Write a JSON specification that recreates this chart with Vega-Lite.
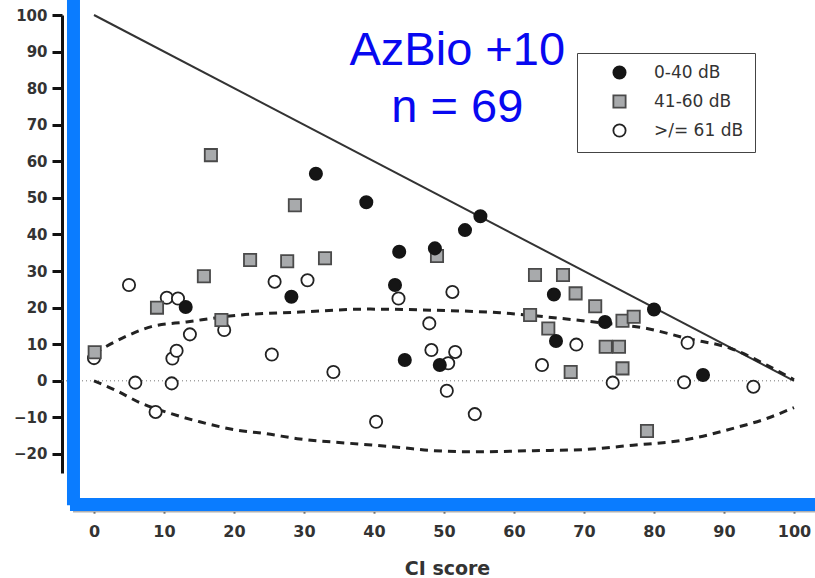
{
  "$schema": "https://vega.github.io/schema/vega-lite/v6.json",
  "width": 753,
  "height": 458,
  "autosize": {"type": "none"},
  "padding": {"left": 62, "top": 15, "right": 0, "bottom": 105},
  "background": "white",
  "config": {
    "view": {"stroke": null},
    "axis": {"grid": false, "labelOverlap": false},
    "axisX": {
      "tickCount": 11,
      "offset": 32,
      "domain": false,
      "tickColor": "#333333", "tickWidth": 2, "tickSize": 8,
      "labelFont": "DejaVu Sans", "labelFontWeight": "bold", "labelFontSize": 16,
      "labelColor": "#333333", "labelPadding": 10,
      "titleFont": "DejaVu Sans", "titleFontWeight": "bold", "titleFontSize": 19,
      "titleColor": "#333333", "titlePadding": 20, "titleX": 385
    },
    "axisY": {
      "tickCount": 13,
      "domainColor": "#111111", "domainWidth": 3,
      "tickColor": "#111111", "tickWidth": 3, "tickSize": 10,
      "labelFont": "DejaVu Sans", "labelFontWeight": "bold", "labelFontSize": 15,
      "labelColor": "#333333", "labelPadding": 5
    }
  },
  "datasets": {
    "scores": [
      {"ci": 0, "gain": 6.2, "group": ">/= 61 dB"},
      {"ci": 5.0, "gain": 26.2, "group": ">/= 61 dB"},
      {"ci": 5.9, "gain": -0.5, "group": ">/= 61 dB"},
      {"ci": 8.8, "gain": -8.5, "group": ">/= 61 dB"},
      {"ci": 10.4, "gain": 22.7, "group": ">/= 61 dB"},
      {"ci": 11.1, "gain": -0.7, "group": ">/= 61 dB"},
      {"ci": 11.2, "gain": 6.1, "group": ">/= 61 dB"},
      {"ci": 11.8, "gain": 8.2, "group": ">/= 61 dB"},
      {"ci": 12.0, "gain": 22.5, "group": ">/= 61 dB"},
      {"ci": 13.7, "gain": 12.7, "group": ">/= 61 dB"},
      {"ci": 18.6, "gain": 13.9, "group": ">/= 61 dB"},
      {"ci": 25.4, "gain": 7.2, "group": ">/= 61 dB"},
      {"ci": 25.8, "gain": 27.1, "group": ">/= 61 dB"},
      {"ci": 30.5, "gain": 27.5, "group": ">/= 61 dB"},
      {"ci": 34.2, "gain": 2.4, "group": ">/= 61 dB"},
      {"ci": 40.3, "gain": -11.2, "group": ">/= 61 dB"},
      {"ci": 43.5, "gain": 22.5, "group": ">/= 61 dB"},
      {"ci": 47.9, "gain": 15.7, "group": ">/= 61 dB"},
      {"ci": 48.2, "gain": 8.4, "group": ">/= 61 dB"},
      {"ci": 50.4, "gain": -2.7, "group": ">/= 61 dB"},
      {"ci": 50.6, "gain": 4.8, "group": ">/= 61 dB"},
      {"ci": 51.2, "gain": 24.3, "group": ">/= 61 dB"},
      {"ci": 51.6, "gain": 7.9, "group": ">/= 61 dB"},
      {"ci": 54.4, "gain": -9.1, "group": ">/= 61 dB"},
      {"ci": 64.0, "gain": 4.3, "group": ">/= 61 dB"},
      {"ci": 68.9, "gain": 9.9, "group": ">/= 61 dB"},
      {"ci": 74.1, "gain": -0.5, "group": ">/= 61 dB"},
      {"ci": 84.3, "gain": -0.4, "group": ">/= 61 dB"},
      {"ci": 84.8, "gain": 10.4, "group": ">/= 61 dB"},
      {"ci": 94.2, "gain": -1.6, "group": ">/= 61 dB"},
      {"ci": 0.1, "gain": 7.8, "group": "41-60 dB"},
      {"ci": 9.0, "gain": 20.0, "group": "41-60 dB"},
      {"ci": 15.7, "gain": 28.6, "group": "41-60 dB"},
      {"ci": 16.7, "gain": 61.7, "group": "41-60 dB"},
      {"ci": 18.2, "gain": 16.6, "group": "41-60 dB"},
      {"ci": 22.3, "gain": 33.0, "group": "41-60 dB"},
      {"ci": 27.6, "gain": 32.7, "group": "41-60 dB"},
      {"ci": 28.7, "gain": 48.0, "group": "41-60 dB"},
      {"ci": 33.0, "gain": 33.5, "group": "41-60 dB"},
      {"ci": 49.0, "gain": 34.1, "group": "41-60 dB"},
      {"ci": 62.3, "gain": 18.0, "group": "41-60 dB"},
      {"ci": 63.0, "gain": 28.9, "group": "41-60 dB"},
      {"ci": 64.9, "gain": 14.3, "group": "41-60 dB"},
      {"ci": 67.0, "gain": 28.9, "group": "41-60 dB"},
      {"ci": 68.1, "gain": 2.4, "group": "41-60 dB"},
      {"ci": 68.8, "gain": 23.9, "group": "41-60 dB"},
      {"ci": 71.6, "gain": 20.4, "group": "41-60 dB"},
      {"ci": 73.1, "gain": 9.3, "group": "41-60 dB"},
      {"ci": 75.0, "gain": 9.3, "group": "41-60 dB"},
      {"ci": 75.5, "gain": 16.4, "group": "41-60 dB"},
      {"ci": 75.5, "gain": 3.4, "group": "41-60 dB"},
      {"ci": 77.1, "gain": 17.5, "group": "41-60 dB"},
      {"ci": 79.0, "gain": -13.7, "group": "41-60 dB"},
      {"ci": 13.1, "gain": 20.2, "group": "0-40 dB"},
      {"ci": 28.2, "gain": 23.0, "group": "0-40 dB"},
      {"ci": 31.7, "gain": 56.6, "group": "0-40 dB"},
      {"ci": 38.9, "gain": 48.8, "group": "0-40 dB"},
      {"ci": 43.6, "gain": 35.3, "group": "0-40 dB"},
      {"ci": 43.0, "gain": 26.2, "group": "0-40 dB"},
      {"ci": 44.4, "gain": 5.7, "group": "0-40 dB"},
      {"ci": 48.7, "gain": 36.2, "group": "0-40 dB"},
      {"ci": 49.4, "gain": 4.3, "group": "0-40 dB"},
      {"ci": 53.0, "gain": 41.2, "group": "0-40 dB"},
      {"ci": 55.2, "gain": 45.0, "group": "0-40 dB"},
      {"ci": 65.7, "gain": 23.6, "group": "0-40 dB"},
      {"ci": 66.0, "gain": 10.9, "group": "0-40 dB"},
      {"ci": 73.0, "gain": 16.1, "group": "0-40 dB"},
      {"ci": 80.0, "gain": 19.5, "group": "0-40 dB"},
      {"ci": 87.0, "gain": 1.6, "group": "0-40 dB"}
    ],
    "limits": [
      {"ci": 0, "gain": 7.5, "bound": "upper"},
      {"ci": 4.4, "gain": 12.0, "bound": "upper"},
      {"ci": 8.2, "gain": 14.8, "bound": "upper"},
      {"ci": 13.2, "gain": 16.1, "bound": "upper"},
      {"ci": 20.9, "gain": 18.0, "bound": "upper"},
      {"ci": 29.4, "gain": 18.8, "bound": "upper"},
      {"ci": 38.9, "gain": 19.6, "bound": "upper"},
      {"ci": 48.5, "gain": 19.3, "bound": "upper"},
      {"ci": 58.0, "gain": 18.6, "bound": "upper"},
      {"ci": 67.5, "gain": 16.9, "bound": "upper"},
      {"ci": 72.3, "gain": 15.9, "bound": "upper"},
      {"ci": 79.0, "gain": 14.3, "bound": "upper"},
      {"ci": 84.7, "gain": 11.6, "bound": "upper"},
      {"ci": 90.9, "gain": 8.9, "bound": "upper"},
      {"ci": 96.1, "gain": 4.3, "bound": "upper"},
      {"ci": 100, "gain": 0.3, "bound": "upper"},
      {"ci": 0, "gain": 0, "bound": "lower"},
      {"ci": 3.0, "gain": -2.5, "bound": "lower"},
      {"ci": 6.6, "gain": -6.0, "bound": "lower"},
      {"ci": 10.9, "gain": -8.9, "bound": "lower"},
      {"ci": 15.1, "gain": -11.2, "bound": "lower"},
      {"ci": 19.9, "gain": -13.3, "bound": "lower"},
      {"ci": 24.7, "gain": -14.5, "bound": "lower"},
      {"ci": 29.4, "gain": -15.9, "bound": "lower"},
      {"ci": 36.6, "gain": -17.1, "bound": "lower"},
      {"ci": 43.7, "gain": -18.2, "bound": "lower"},
      {"ci": 48.5, "gain": -19.1, "bound": "lower"},
      {"ci": 54.2, "gain": -19.4, "bound": "lower"},
      {"ci": 62.8, "gain": -19.1, "bound": "lower"},
      {"ci": 69.9, "gain": -18.8, "bound": "lower"},
      {"ci": 77.0, "gain": -17.6, "bound": "lower"},
      {"ci": 84.2, "gain": -16.2, "bound": "lower"},
      {"ci": 91.3, "gain": -13.0, "bound": "lower"},
      {"ci": 96.1, "gain": -10.3, "bound": "lower"},
      {"ci": 100, "gain": -7.3, "bound": "lower"}
    ]
  },
  "layer": [
    {
      "data": {"values": [{"ci": -4.571, "gain": 0}, {"ci": 100, "gain": 0}]},
      "mark": {"type": "line", "color": "#777777", "strokeWidth": 1, "strokeDash": [1, 3]},
      "encoding": {
        "x": {
          "field": "ci", "type": "quantitative",
          "scale": {"domain": [-4.571, 103], "nice": false, "zero": false},
          "axis": {"title": "CI score"}
        },
        "y": {
          "field": "gain", "type": "quantitative",
          "scale": {"domain": [-25.2, 100], "nice": false, "zero": false},
          "axis": {"title": null}
        }
      }
    },
    {
      "data": {"values": [{"ci": 0, "gain": 100}, {"ci": 100, "gain": 0}]},
      "mark": {"type": "line", "color": "#333333", "strokeWidth": 2},
      "encoding": {
        "x": {"field": "ci", "type": "quantitative"},
        "y": {"field": "gain", "type": "quantitative"}
      }
    },
    {
      "data": {"name": "limits"},
      "mark": {"type": "line", "color": "#222222", "strokeWidth": 3, "strokeDash": [8, 6], "interpolate": "monotone"},
      "encoding": {
        "x": {"field": "ci", "type": "quantitative"},
        "y": {"field": "gain", "type": "quantitative"},
        "detail": {"field": "bound"}
      }
    },
    {
      "data": {"name": "scores"},
      "mark": {"type": "point", "filled": true, "strokeWidth": 1.8, "size": 150, "opacity": 1},
      "encoding": {
        "x": {"field": "ci", "type": "quantitative"},
        "y": {"field": "gain", "type": "quantitative"},
        "shape": {
          "field": "group", "type": "nominal",
          "scale": {"domain": ["0-40 dB", "41-60 dB", ">/= 61 dB"], "range": ["circle", "square", "circle"]},
          "legend": {"title": null}
        },
        "fill": {
          "field": "group", "type": "nominal",
          "scale": {"domain": ["0-40 dB", "41-60 dB", ">/= 61 dB"], "range": ["#151515", "#a8aaac", "#ffffff"]},
          "legend": {"title": null}
        },
        "stroke": {
          "field": "group", "type": "nominal",
          "scale": {"domain": ["0-40 dB", "41-60 dB", ">/= 61 dB"], "range": ["#151515", "#4a4a4a", "#222222"]},
          "legend": {
            "title": null,
            "orient": "none",
            "legendX": 515,
            "legendY": 38,
            "padding": 11,
            "symbolOffset": 23,
            "rowPadding": 8,
            "labelOffset": 26,
            "symbolSize": 150,
            "symbolStrokeWidth": 1.8,
            "labelFont": "DejaVu Sans",
            "labelFontSize": 17,
            "labelColor": "#333333",
            "fillColor": "#ffffff",
            "strokeColor": "#444444",
            "encode": {"legend": {"update": {"strokeWidth": {"value": 1.5}}}}
          }
        }
      }
    },
    {
      "data": {"values": [{}]},
      "mark": {
        "type": "text",
        "text": ["AzBio +10", "n = 69"],
        "font": "Liberation Sans",
        "fontSize": 47,
        "color": "#0808f0",
        "align": "center",
        "baseline": "alphabetic",
        "lineHeight": 57
      },
      "encoding": {
        "x": {"datum": 51.9, "type": "quantitative"},
        "y": {"datum": 86.3, "type": "quantitative"}
      }
    },
    {
      "data": {"values": [{}]},
      "mark": {"type": "rule", "color": "#b0b0b0", "strokeWidth": 3, "clip": false},
      "encoding": {
        "x": {"datum": -3.0, "type": "quantitative"},
        "x2": {"datum": 103},
        "y": {"datum": -35.6, "type": "quantitative"}
      }
    },
    {
      "data": {"values": [{}]},
      "mark": {"type": "rule", "color": "#0a7cff", "strokeWidth": 13, "clip": false},
      "encoding": {
        "x": {"datum": -2.93, "type": "quantitative"},
        "y": {"datum": -34.0, "type": "quantitative"},
        "y2": {"datum": 104.1}
      }
    },
    {
      "data": {"values": [{}]},
      "mark": {"type": "rule", "color": "#0a7cff", "strokeWidth": 13, "clip": false},
      "encoding": {
        "x": {"datum": -3.43, "type": "quantitative"},
        "x2": {"datum": 103},
        "y": {"datum": -33.8, "type": "quantitative"}
      }
    }
  ]
}
